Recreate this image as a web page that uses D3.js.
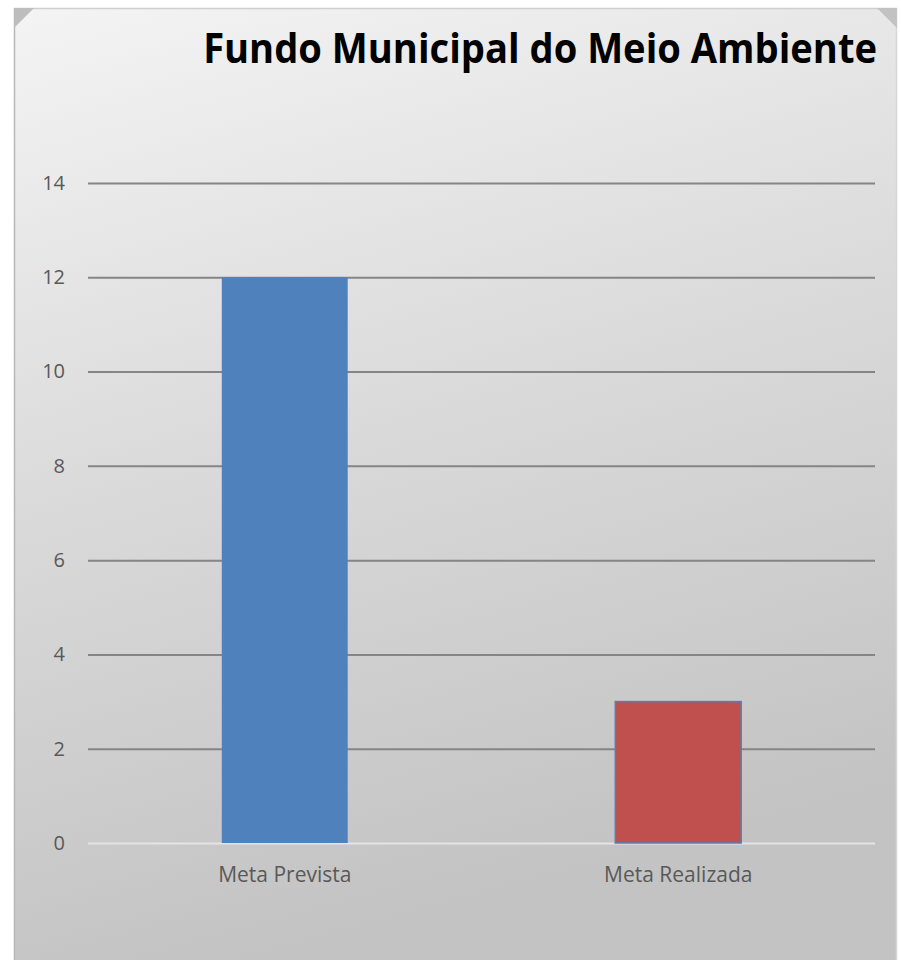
<!DOCTYPE html>
<html><head><meta charset="utf-8">
<script src="https://cdn.jsdelivr.net/npm/d3@7"></script>
<style>html,body{margin:0;padding:0;background:#fff;}svg{display:block;}</style>
</head><body>
<script>
const categories = ["Meta Prevista", "Meta Realizada"];
const values = [12, 3];
const colors = ["#4f81bd", "#c0504d"];
const yTicks = [0, 2, 4, 6, 8, 10, 12, 14];
const title = "Fundo Municipal do Meio Ambiente";

const W = 901, H = 960;
const svg = d3.select("body").append("svg").attr("width", W).attr("height", H);
const defs = svg.append("defs");
const g1 = defs.append("linearGradient").attr("id","bg").attr("x1","0").attr("y1","0").attr("x2","0.25").attr("y2","1");
g1.append("stop").attr("offset","0").attr("stop-color","#f4f4f4");
g1.append("stop").attr("offset","0.5").attr("stop-color","#dadada");
g1.append("stop").attr("offset","1").attr("stop-color","#c3c3c3");

// panel
const px0 = 14, py0 = 8, px1 = 897;
svg.append("rect").attr("x", px0).attr("y", py0).attr("width", px1 - px0).attr("height", H - py0 + 2)
  .attr("fill", "url(#bg)");
svg.append("line").attr("x1", px0+0.5).attr("x2", px0+0.5).attr("y1", py0).attr("y2", H).attr("stroke","#b8b8b8").attr("stroke-width",1.5);
svg.append("line").attr("x1", px1-0.5).attr("x2", px1-0.5).attr("y1", py0).attr("y2", H).attr("stroke","#d6d6d6").attr("stroke-width",1.5);
svg.append("line").attr("x1", px0).attr("x2", px1).attr("y1", py0+0.5).attr("y2", py0+0.5).attr("stroke","#cfcfcf").attr("stroke-width",1.5);
// corner bevels
svg.append("path").attr("d", `M${px0},${py0} L${px0+20},${py0} L${px0},${py0+20} Z`).attr("fill","#bdbdbd");
svg.append("path").attr("d", `M${px1},${py0} L${px1-20},${py0} L${px1},${py0+20} Z`).attr("fill","#c2c2c2");

// title (horizontally condensed like the original's narrow typeface)
const tg = svg.append("g");
const tt = tg.append("text").attr("x", 0).attr("y", 0).attr("text-anchor","end")
  .attr("font-family","'Open Sans', sans-serif").attr("font-weight","bold").attr("font-size",42)
  .attr("fill","#000").text(title);
const natural = tt.node().getComputedTextLength();
const sx = 674 / natural;
tg.attr("transform", `translate(877,63) scale(${sx},1)`);

const x = d3.scaleBand().domain(categories).range([88, 875]).paddingInner(0.68).paddingOuter(0.34);
const y = d3.scaleLinear().domain([0, 14]).range([843, 183]);

// gridlines
const yAxis = d3.axisLeft(y).tickValues(yTicks).tickSize(-(875 - 88)).tickPadding(23);
const ga = svg.append("g").attr("transform", "translate(88,0)").call(yAxis);
ga.select(".domain").remove();
ga.selectAll(".tick line").attr("stroke", d => d === 0 ? "#e4e4e4" : "#858585").attr("stroke-width", 2);
ga.selectAll(".tick text").attr("font-family","'Open Sans', sans-serif").attr("font-size",20).attr("fill","#595959");

// bars
svg.append("g").selectAll("rect").data(categories).join("rect")
  .attr("x", d => x(d)).attr("width", x.bandwidth())
  .attr("y", (d,i) => y(values[i])).attr("height", (d,i) => y(0) - y(values[i]))
  .attr("fill", (d,i) => colors[i]).attr("stroke", "#4f81bd").attr("stroke-width", (d,i) => i === 0 ? 0 : 1.5);

// category labels
const xAxis = d3.axisBottom(x).tickSize(0).tickPadding(24);
const gx = svg.append("g").attr("transform", "translate(0,843)").call(xAxis);
gx.select(".domain").remove();
gx.selectAll(".tick text").attr("font-family","'Open Sans', sans-serif").attr("font-size",21).attr("fill","#595959");
</script>
</body></html>
